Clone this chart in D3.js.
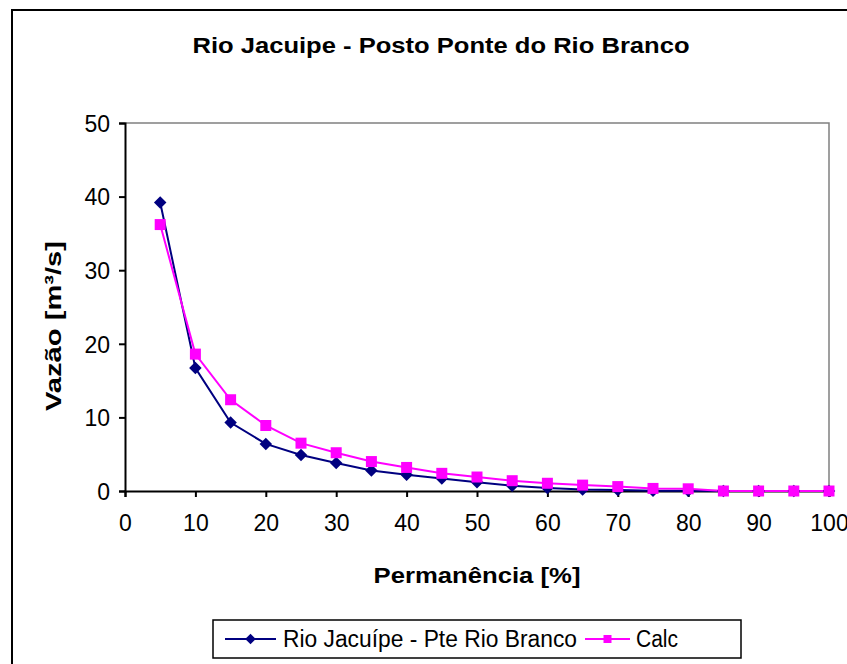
<!DOCTYPE html>
<html>
<head>
<meta charset="utf-8">
<script src="https://cdn.jsdelivr.net/npm/d3@7/dist/d3.min.js"></script>
<style>
  html, body { margin: 0; padding: 0; background: #fff; }
  svg { display: block; }
  text { font-family: "Liberation Sans", Arial, sans-serif; fill: #000; }
</style>
</head>
<body>
<svg id="chart" width="847" height="664"></svg>
<script>
// Flow-duration data: exceedance percentage vs. discharge (m³/s)
const permanence = [5, 10, 15, 20, 25, 30, 35, 40, 45, 50, 55, 60, 65, 70, 75, 80, 85, 90, 95, 100];
const observed   = [39.2, 16.7, 9.3, 6.4, 4.9, 3.8, 2.8, 2.2, 1.7, 1.2, 0.7, 0.4, 0.2, 0.12, 0.05, 0.02, 0, 0, 0, 0];
const calculated = [36.2, 18.6, 12.4, 8.9, 6.5, 5.2, 4.0, 3.2, 2.4, 1.9, 1.4, 1.05, 0.8, 0.6, 0.35, 0.3, 0, 0, 0, 0];
const xTicks = [0, 10, 20, 30, 40, 50, 60, 70, 80, 90, 100];
const yTicks = [0, 10, 20, 30, 40, 50];

const seriesNames = ["Rio Jacuípe - Pte Rio Branco", "Calc"];
const titleText = "Rio Jacuipe - Posto Ponte do Rio Branco";
const xTitle = "Permanência [%]";
const yTitle = "Vazão [m³/s]";

const svg = d3.select("#chart");

// outer chart frame
svg.append("rect")
  .attr("x", 12).attr("y", 10)
  .attr("width", 880).attr("height", 700)
  .attr("fill", "#fff").attr("stroke", "#000").attr("stroke-width", 2);

const plot = { left: 125, top: 123, right: 829, bottom: 491 };

const x = d3.scaleLinear().domain([0, 100]).range([plot.left, plot.right]);
const y = d3.scaleLinear().domain([0, 50]).range([plot.bottom, plot.top]);

// plot area: grey top/right edges
svg.append("path")
  .attr("d", `M${plot.left},${plot.top}H${plot.right}V${plot.bottom}`)
  .attr("fill", "none").attr("stroke", "#808080").attr("stroke-width", 1.5);

// axes
const yAxis = svg.append("g")
  .attr("transform", `translate(${plot.left},0)`)
  .call(d3.axisLeft(y).tickValues(yTicks).tickSize(6).tickPadding(9).tickFormat(d3.format("d")));
const xAxis = svg.append("g")
  .attr("transform", `translate(0,${plot.bottom})`)
  .call(d3.axisBottom(x).tickValues(xTicks).tickSize(6).tickPadding(18).tickFormat(d3.format("d")));

[xAxis, yAxis].forEach(g => {
  g.select(".domain").attr("stroke", "#000").attr("stroke-width", 2);
  g.selectAll(".tick line").attr("stroke", "#000").attr("stroke-width", 2);
  g.selectAll(".tick text")
    .attr("font-family", "Liberation Sans, Arial, sans-serif")
    .attr("font-size", 23).attr("fill", "#000");
});
yAxis.selectAll(".tick text").attr("dy", "0.36em");

// series
const line = d3.line().x((d, i) => x(permanence[i])).y(d => y(d));

const series = [
  { values: observed, color: "#000080", symbol: "diamond" },
  { values: calculated, color: "#FF00FF", symbol: "square" }
];

series.forEach(s => {
  svg.append("path")
    .datum(s.values)
    .attr("d", line)
    .attr("fill", "none")
    .attr("stroke", s.color)
    .attr("stroke-width", 2);
});
series.forEach(s => {
  const g = svg.append("g");
  s.values.forEach((v, i) => {
    const m = g.append("g").attr("transform", `translate(${x(permanence[i])},${y(v)})`);
    if (s.symbol === "diamond") {
      m.append("path").attr("d", d3.symbol(d3.symbolSquare, 78)())
        .attr("transform", "rotate(45)").attr("fill", s.color);
    } else {
      m.append("path").attr("d", d3.symbol(d3.symbolSquare, 121)()).attr("fill", s.color);
    }
  });
});

// titles
svg.append("text")
  .attr("x", 441).attr("y", 53)
  .attr("text-anchor", "middle")
  .attr("font-weight", "bold").attr("font-size", 22)
  .attr("textLength", 497).attr("lengthAdjust", "spacingAndGlyphs")
  .text(titleText);

svg.append("text")
  .attr("x", 477).attr("y", 583)
  .attr("text-anchor", "middle")
  .attr("font-weight", "bold").attr("font-size", 22)
  .attr("textLength", 207).attr("lengthAdjust", "spacingAndGlyphs")
  .text(xTitle);

svg.append("text")
  .attr("transform", `translate(61,326) rotate(-90)`)
  .attr("text-anchor", "middle")
  .attr("font-weight", "bold").attr("font-size", 22)
  .attr("textLength", 170).attr("lengthAdjust", "spacingAndGlyphs")
  .text(yTitle);

// legend
const legend = svg.append("g");
legend.append("rect")
  .attr("x", 213).attr("y", 620).attr("width", 528).attr("height", 38)
  .attr("fill", "#fff").attr("stroke", "#000").attr("stroke-width", 1.5);

const legendItems = [
  { name: seriesNames[0], color: "#000080", symbol: "diamond", x0: 225, x1: 276, tx: 283 },
  { name: seriesNames[1], color: "#FF00FF", symbol: "square", x0: 585, x1: 630, tx: 636 }
];
legendItems.forEach(it => {
  legend.append("line")
    .attr("x1", it.x0).attr("x2", it.x1).attr("y1", 639).attr("y2", 639)
    .attr("stroke", it.color).attr("stroke-width", 2);
  const m = legend.append("g").attr("transform", `translate(${(it.x0 + it.x1) / 2},639)`);
  if (it.symbol === "diamond") {
    m.append("path").attr("d", d3.symbol(d3.symbolSquare, 56)()).attr("transform", "rotate(45)").attr("fill", it.color);
  } else {
    m.append("path").attr("d", d3.symbol(d3.symbolSquare, 64)()).attr("fill", it.color);
  }
  legend.append("text")
    .attr("x", it.tx).attr("y", 639).attr("dy", "0.36em")
    .attr("font-size", 23)
    .attr("textLength", it.symbol === "diamond" ? 294 : 42).attr("lengthAdjust", "spacingAndGlyphs")
    .text(it.name);
});
</script>
</body>
</html>
